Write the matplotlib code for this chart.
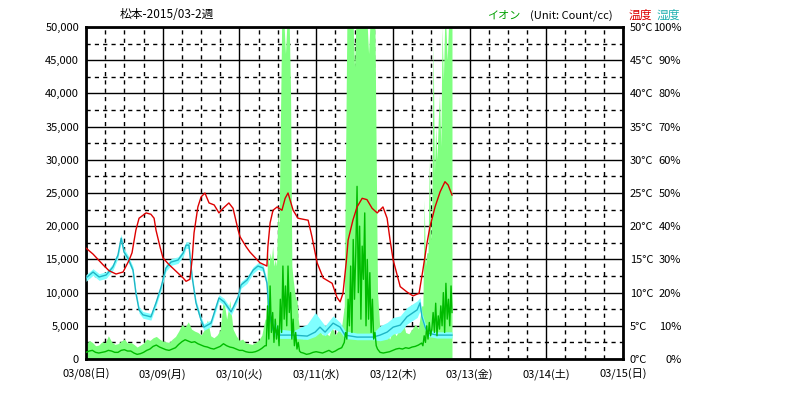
import numpy as np
import matplotlib
matplotlib.use('Agg')
import matplotlib.pyplot as plt
from matplotlib.ticker import FixedLocator

plt.rcParams['font.family'] = ['Noto Sans CJK JP', 'DejaVu Sans']

# ---------------- data (hours from 03/08 00:00) ----------------
day_labels = ['03/08(日)', '03/09(月)', '03/10(火)', '03/11(水)',
              '03/12(木)', '03/13(金)', '03/14(土)', '03/15(日)']

temp_t = [0, 2.2, 5.3, 7.2, 9.4, 11.6, 13.5, 14.4, 15.6, 16.6, 18.8, 20.3, 21.3, 21.9, 23.2,
          24.1, 26.0, 28.2, 30.4, 31.3, 32.5, 33.2, 33.8, 35.0, 36.0, 37.2, 38.5, 40.1, 41.6, 42.9,
          44.7, 46.0, 47.6, 48.2, 50.1, 51.3, 54.4, 56.6, 56.9, 57.6, 58.5, 59.8, 61.3, 62.3, 63.2,
          64.8, 66.3, 69.5, 70.7, 72.3, 74.2, 77.0, 78.5, 79.5, 80.4, 81.4, 82.0, 83.5, 84.8, 86.4,
          87.9, 89.5, 91.1, 92.9, 94.2, 95.1, 96.1, 98.3, 100.4, 102.3, 104.2, 105.4, 106.7, 107.6,
          109.2, 110.8, 112.3, 113.3, 114.5]
temp = [16.7, 15.8, 14.2, 13.3, 12.8, 13.1, 14.9, 16.0, 19.4, 21.2, 22.0, 21.8, 21.2, 19.4, 16.8,
        15.2, 14.2, 13.2, 12.2, 11.7, 12.0, 15.0, 19.0, 22.9, 24.4, 25.0, 23.5, 23.2, 22.0, 22.7,
        23.5, 22.7, 19.4, 18.4, 16.9, 16.1, 14.5, 14.0, 16.9, 20.5, 22.4, 22.9, 22.4, 24.2, 25.0,
        22.4, 21.2, 20.9, 18.4, 14.5, 12.2, 11.4, 9.3, 8.6, 9.9, 14.5, 17.9, 20.9, 22.9, 24.2,
        24.0, 22.7, 22.0, 22.9, 21.2, 18.0, 14.9, 10.9, 10.1, 9.5, 9.9, 13.4, 17.5, 19.9,
        22.9, 25.2, 26.7, 26.2, 24.7]

hum_t = [0, 2.2, 4.1, 6.3, 8.4, 10.0, 11.0, 11.9, 13.1, 14.7, 15.6, 16.6, 17.8, 20.3, 21.9,
         23.5, 25.0, 26.6, 28.8, 30.4, 31.3, 32.2, 33.2, 34.4, 36.0, 36.9, 39.1, 40.7, 41.6, 43.2,
         45.4, 47.6, 48.5, 50.4, 52.3, 53.8, 55.4, 56.6, 57.3, 58.5, 60.7, 64.8, 69.2, 71.7, 73.2,
         74.8, 77.3, 79.5, 81.0, 84.8, 89.8, 92.0, 94.2, 96.1, 98.3, 100.4, 103.6, 104.5, 105.1,
         106.1, 107.0, 109.8, 114.5]
hum = [24.4, 26.2, 24.7, 25.3, 27.7, 31.3, 36.4, 32.2, 30.4, 26.8, 19.9, 14.8, 13.3, 12.7, 16.9,
       21.7, 27.4, 29.2, 29.8, 31.9, 34.3, 34.3, 24.7, 16.9, 11.7, 9.6, 10.8, 15.7, 18.4, 17.2,
       14.2, 18.7, 22.3, 23.8, 26.8, 28.0, 27.4, 22.9, 13.9, 8.7, 7.2, 7.2, 6.9, 8.1, 9.6,
       8.1, 10.8, 9.6, 7.2, 6.6, 6.6, 7.2, 8.1, 9.6, 10.2, 12.7, 14.8, 16.9, 12.7,
       9.6, 7.8, 7.2, 7.2]
hum_hi = [25.4, 27.2, 25.7, 26.3, 28.7, 32.3, 37.6, 33.2, 31.4, 27.8, 20.9, 15.8, 14.3, 13.7, 17.9,
          22.7, 28.4, 30.2, 30.8, 32.9, 35.3, 35.3, 25.7, 17.9, 12.7, 10.6, 11.8, 16.7, 19.4, 18.2,
          15.2, 19.7, 23.3, 24.8, 27.8, 29.0, 28.4, 23.9, 16.0, 11.5, 9.0, 8.5, 10.5, 14.0, 12.0,
          10.0, 13.0, 11.0, 8.5, 7.8, 7.8, 10.0, 11.0, 12.5, 13.0, 15.5, 17.5, 18.5, 14.0,
          10.8, 8.8, 8.2, 8.2]
hum_lo = [23.4, 25.2, 23.7, 24.3, 26.7, 30.3, 35.2, 31.2, 29.4, 25.8, 18.9, 13.8, 12.3, 11.7, 15.9,
          20.7, 26.4, 28.2, 28.8, 30.9, 33.3, 33.3, 23.7, 15.9, 10.7, 8.6, 9.8, 14.7, 17.4, 16.2,
          13.2, 17.7, 21.3, 22.8, 25.8, 27.0, 26.4, 21.9, 12.9, 7.7, 6.2, 6.2, 5.9, 6.8, 8.0,
          7.0, 9.2, 8.2, 6.2, 5.8, 5.8, 5.5, 6.0, 7.5, 8.0, 10.5, 12.5, 14.5, 11.5,
          8.6, 6.8, 6.3, 6.3]

# ion: sampling times per segment
ion_t_calm1 = list(range(0, 57))
ion_t_ev1 = [56.4, 56.8, 57.2, 57.6, 58.0, 58.4, 58.8, 59.2, 59.6, 60.0, 60.4, 60.8, 61.2, 61.6,
             62.0, 62.4, 62.8, 63.2, 63.6, 64.0, 64.4, 64.8, 65.2, 65.6, 66.0, 66.4, 66.8, 67.2]
ion_t_calm2 = list(range(68, 81))
ion_t_ev2 = [80.8, 81.2, 81.6, 82.0, 82.4, 82.8, 83.2, 83.6, 84.0, 84.4, 84.8, 85.2, 85.6, 86.0,
             86.4, 86.8, 87.2, 87.6, 88.0, 88.4, 88.8, 89.2, 89.6, 90.0, 90.4, 90.8, 91.2]
ion_t_calm3 = list(range(92, 106))
ion_t_ev3 = [105.4, 105.8, 106.2, 106.6, 107.0, 107.4, 107.8, 108.2, 108.6, 109.0, 109.4, 109.8,
             110.2, 110.6, 111.0, 111.4, 111.8, 112.2, 112.6, 113.0, 113.4, 113.8, 114.2, 114.5]

ion_hi_calm1 = [2200, 2800, 2500, 2000, 2100, 2600, 2400, 3500, 2600, 2200, 2300, 2700, 3000, 2400,
                2500, 2200, 1800, 2100, 2400, 3000, 2800, 3200, 3400, 3000, 2700, 2600, 2500, 3000,
                3400, 4200, 5200, 4800, 5600, 4500, 4200, 4000, 3600, 4400, 5900, 3500, 3200, 3600,
                4400, 9300, 6000, 8800, 4500, 3500, 2800, 3000, 2400, 2300, 2200, 2500, 2800, 3600, 6000]
ion_avg_calm1 = [1000, 1200, 1300, 1000, 900, 1000, 1100, 1300, 1200, 1000, 1000, 1300, 1400, 1200,
                 1200, 900, 700, 800, 1000, 1300, 1500, 1900, 2100, 1800, 1600, 1400, 1300, 1500,
                 1700, 2200, 2600, 2900, 2700, 2500, 2600, 2300, 2100, 1900, 1800, 1600, 1500, 1700,
                 1900, 2300, 2000, 1800, 1700, 1500, 1300, 1300, 1100, 1000, 1000, 1100, 1300, 1600, 2000]
ion_hi_ev1 = [6000, 16000, 14000, 16000, 15000, 17000, 14000, 15000, 14000, 22000, 20000, 35000, 50000,
              50000, 50000, 46000, 50000, 50000, 50000, 40000, 14000, 12000, 10400, 9000, 9000, 6000,
              4500, 4000]
ion_avg_ev1 = [2000, 8000, 3000, 11000, 4000, 7000, 2500, 6000, 3000, 5000, 2000, 9000, 4000, 14000,
               6000, 11000, 5000, 14000, 7000, 10000, 3000, 6000, 2000, 4000, 1500, 2500, 1200, 1000]
ion_hi_calm2 = [3000, 3500, 4000, 5500, 3800, 4400, 3600, 4000, 3500, 4800, 3600, 4400, 5000]
ion_avg_calm2 = [900, 700, 800, 1000, 1100, 1000, 900, 1100, 1300, 1000, 1200, 1500, 1700]
ion_hi_ev2 = [8000, 30000, 50000, 50000, 50000, 50000, 50000, 50000, 44000, 50000, 50000, 50000,
              50000, 50000, 50000, 50000, 50000, 50000, 50000, 46000, 50000, 50000, 50000, 50000,
              50000, 30000, 10000]
ion_avg_ev2 = [2500, 4000, 3000, 9000, 5000, 14000, 4000, 18000, 9000, 16000, 26000, 10000, 20000,
               6000, 17000, 12000, 22000, 5000, 15000, 6000, 13000, 4000, 9000, 3000, 4000, 2000, 1500]
ion_hi_calm3 = [4000, 3500, 4000, 3000, 4500, 3500, 4400, 6000, 4000, 3800, 4500, 5200, 4600, 8000]
ion_avg_calm3 = [1000, 900, 1000, 1100, 1300, 1500, 1600, 1500, 1700, 1600, 1800, 1900, 2100, 2400]
ion_hi_ev3 = [8000, 24000, 14000, 16000, 16000, 30000, 18000, 22000, 48000, 28000, 35000, 30000,
              36000, 40000, 32000, 50000, 42000, 50000, 50000, 45000, 50000, 50000, 50000, 50000]
ion_avg_ev3 = [2000, 3500, 2500, 5000, 3000, 5500, 3500, 4500, 7000, 4000, 8400, 3500, 6500, 4500,
               8000, 5000, 10000, 4000, 11400, 6000, 9000, 5000, 11000, 7000]

ion_t = ion_t_calm1 + ion_t_ev1 + ion_t_calm2 + ion_t_ev2 + ion_t_calm3 + ion_t_ev3
ion_hi = ion_hi_calm1 + ion_hi_ev1 + ion_hi_calm2 + ion_hi_ev2 + ion_hi_calm3 + ion_hi_ev3
ion_avg = ion_avg_calm1 + ion_avg_ev1 + ion_avg_calm2 + ion_avg_ev2 + ion_avg_calm3 + ion_avg_ev3

ion_ticks = list(range(0, 50001, 5000))
temp_ticks = list(range(0, 51, 5))
hum_ticks = list(range(0, 101, 10))

# ---------------- figure ----------------
W, H = 786, 399
fig = plt.figure(figsize=(W / 100, H / 100), dpi=100)
ax = fig.add_axes([86 / W, 40 / H, 537 / W, 332 / H])

ax.set_axisbelow(True)
ax.fill_between(ion_t, 0, ion_hi, color='#80ff80', lw=0, zorder=2)

ax.set_xlim(0, 168)
ax.set_ylim(0, 50000)
ax.xaxis.set_major_locator(FixedLocator(list(range(0, 169, 24))))
ax.xaxis.set_minor_locator(FixedLocator(list(range(0, 169, 6))))
ax.set_xticklabels(day_labels, fontsize=8)
ax.yaxis.set_major_locator(FixedLocator(ion_ticks))
ax.yaxis.set_minor_locator(FixedLocator(list(range(2500, 50000, 5000))))
ax.set_yticklabels([f'{v:,}' for v in ion_ticks], fontsize=8)
ax.grid(which='major', color='black', lw=1, ls='-')
ax.grid(which='minor', color='black', lw=1, ls=(0, (3, 3)))
ax.tick_params(which='both', length=0)
ax.tick_params(axis='y', pad=5)
ax.tick_params(axis='x', pad=7)
for s in ax.spines.values():
    s.set_linewidth(2)
    s.set_color('black')
    s.set_zorder(5)

# humidity
ax_h = ax.twinx()
ax_h.set_ylim(0, 100)
ax_h.fill_between(hum_t, hum_lo, hum_hi, color='#80ffff', lw=0)
ax_h.plot(hum_t, hum, color='#1fb5c5', lw=1)
ax_h.yaxis.set_major_locator(FixedLocator(hum_ticks))
ax_h.set_yticklabels([f'{v}%' for v in hum_ticks], fontsize=8, ha='right')
ax_h.tick_params(length=0, pad=42)
for s in ax_h.spines.values():
    s.set_visible(False)

# ion average line (same 0-50000 scale, above humidity)
ax_i = ax.twinx()
ax_i.set_ylim(0, 50000)
ax_i.plot(ion_t, ion_avg, color='#00bb00', lw=1)
ax_i.set_yticks([])
for s in ax_i.spines.values():
    s.set_visible(False)

# temperature
ax_t = ax.twinx()
ax_t.set_ylim(0, 50)
ax_t.plot(temp_t, temp, color='#dd0000', lw=1)
ax_t.yaxis.set_major_locator(FixedLocator(temp_ticks))
ax_t.set_yticklabels([f'{v}°C' for v in temp_ticks], fontsize=8)
ax_t.tick_params(length=0, pad=5)
for s in ax_t.spines.values():
    s.set_visible(False)

# texts
fig.text(120 / W, 1 - 15 / H, '松本-2015/03-2週', fontsize=8.5, ha='left', va='center')
fig.text(487 / W, 1 - 16 / H, 'イオン', fontsize=8, color='#00a000', ha='left', va='center')
fig.text(530 / W, 1 - 16 / H, '(Unit: Count/cc)', fontsize=8, ha='left', va='center')
fig.text(629 / W, 1 - 15 / H, '温度', fontsize=8.5, color='#dd0000', ha='left', va='center')
fig.text(657 / W, 1 - 15 / H, '湿度', fontsize=8.5, color='#20b0b0', ha='left', va='center')

fig.savefig('out.png', dpi=100, facecolor='white')
